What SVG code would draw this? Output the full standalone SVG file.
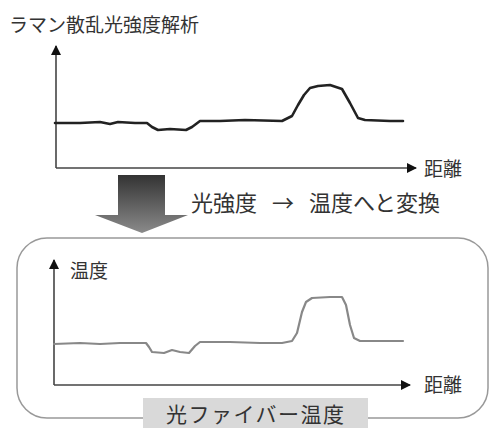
<svg xmlns="http://www.w3.org/2000/svg" width="490" height="428" viewBox="0 0 490 428">
<style>
text{font-family:"Noto Sans CJK JP","Noto Sans",sans-serif;fill:#333}
.t19{font-size:19px}
.t22{font-size:22px}
.axis{stroke:#444;stroke-width:1.6;fill:none}
.c1{stroke:#222;stroke-width:2.6;fill:none;stroke-linejoin:round;stroke-linecap:round}
.c2{stroke:#888;stroke-width:2.2;fill:none;stroke-linejoin:round;stroke-linecap:round}
</style>
<defs>
<marker id="ah" viewBox="0 0 10 10" refX="9" refY="5" markerWidth="10" markerHeight="10" markerUnits="userSpaceOnUse" orient="auto">
<path d="M0,0 L10,5 L0,10 Z" fill="#111"/>
</marker>
<linearGradient id="g" x1="0" y1="0" x2="0" y2="1">
<stop offset="0" stop-color="#333"/>
<stop offset="1" stop-color="#8a8a8a"/>
</linearGradient>
</defs>
<g id="top-chart">
<text class="t19" x="9" y="32">ラマン散乱光強度解析</text>
<path class="axis" d="M56,168 V46" marker-end="url(#ah)"/>
<path class="axis" d="M56,168 H416" marker-end="url(#ah)"/>
<text class="t19" x="424" y="176">距離</text>
<path class="c1" d="M55,123 L80,123 L100,122 L110,124 L118,122 L135,123 L147,123 L152,127 L158,130 L170,129 L186,130 L192,127 L200,121 L220,121 L245,120 L282,121 L292,116 L298,105 L304,95 L310,88 L318,86 L330,85 L342,89 L350,103 L358,118 L365,120 L390,121 L403,121"/>
</g>
<g id="convert-arrow">
<path d="M118,175 H165 V215 H188 L142,233 L95,215 H118 Z" fill="url(#g)"/>
<text class="t22" x="191" y="211">光強度</text>
<text class="t22" x="272" y="211">→</text>
<text class="t22" x="309" y="211">温度へと変換</text>
</g>
<g id="fiber-box">
<rect x="17" y="238" width="471" height="180" rx="30" fill="none" stroke="#999" stroke-width="1.5"/>
<rect x="143" y="398" width="225" height="32" fill="#d9d9d9"/>
<text x="166" y="422" font-size="21" letter-spacing="1.5">光ファイバー温度</text>
</g>
<g id="bottom-chart">
<path class="axis" d="M54,385 V260" marker-end="url(#ah)"/>
<path class="axis" d="M54,385 H410" marker-end="url(#ah)"/>
<text class="t19" x="70" y="278">温度</text>
<text class="t19" x="424" y="392">距離</text>
<path class="c2" d="M54,344 L80,343 L100,344 L120,343 L146,343 L149,347 L152,352 L164,353 L172,350 L180,352 L189,353 L195,346 L200,342 L230,342 L260,343 L282,343 L292,341 L297,333 L302,312 L306,302 L312,298 L330,297 L342,297 L346,305 L350,325 L354,338 L360,341 L385,341 L403,341"/>
</g>
</svg>
